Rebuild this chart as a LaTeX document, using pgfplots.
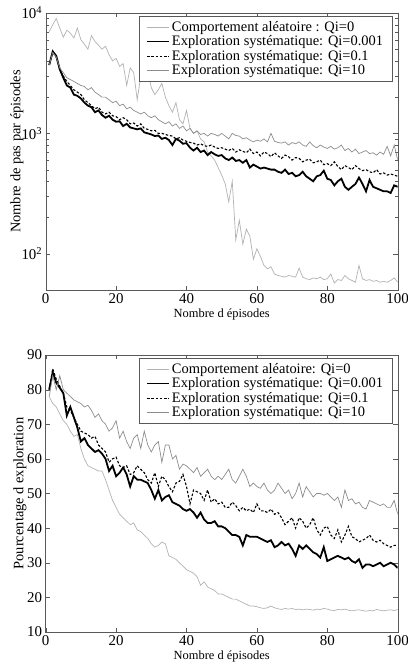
\documentclass[border=0pt]{standalone}
\usepackage{fontspec}
\setmainfont{Liberation Serif}
\usepackage{pgfplots}
\usepackage{pgfplotstable}
\pgfplotsset{compat=1.18}

% colonnes: episode, Qi=0 (aleatoire), Qi=0.001, Qi=0.1, Qi=10
\pgfplotstableread{
x r a b c
1 7000 3700 3700 3700
2 8000 4800 4700 4700
3 9000 4400 4300 4300
4 7500 3400 3400 3500
5 6300 2900 3000 3200
6 7200 2500 2700 2900
7 6800 2400 2500 2800
8 6200 2100 2300 2700
9 7500 2050 2200 2600
10 6000 1950 2100 2500
11 5500 1800 1900 2450
12 5000 1700 1800 2300
13 6500 1650 1700 2400
14 5800 1500 1600 2200
15 5400 1550 1650 2100
16 5000 1420 1500 2000
17 5300 1350 1450 2000
18 4500 1400 1500 1900
19 4000 1300 1400 1800
20 4200 1250 1380 1850
21 3600 1260 1300 1700
22 3800 1150 1350 1750
23 2500 1200 1300 1600
24 3500 1120 1200 1650
25 3200 1100 1220 1550
26 1900 1080 1150 1500
27 3000 1100 1200 1450
28 2700 1020 1100 1500
29 3300 1000 1080 1400
30 2400 980 1050 1350
31 2100 950 1060 1400
32 2300 960 1000 1300
33 2600 900 1000 1250
34 2000 920 980 1200
35 1700 880 960 1250
36 1500 800 950 1150
37 1800 900 900 1200
38 1300 870 920 1100
39 1200 820 880 1150
40 1550 830 860 1050
41 1100 760 840 1100
42 1000 720 830 1000
43 1050 760 800 1050
44 900 700 820 980
45 850 720 790 1000
46 700 660 780 950
47 650 700 800 1000
48 600 670 770 980
49 520 650 750 950
50 450 660 760 1000
51 380 620 740 950
52 270 600 720 900
53 400 630 750 1000
54 130 590 700 960
55 190 600 730 950
56 120 570 710 900
57 160 600 690 920
58 140 520 740 880
59 90 550 680 850
60 110 530 700 880
61 95 510 650 860
62 80 520 700 900
63 75 510 680 850
64 78 500 640 1000
65 68 500 690 860
66 66 480 650 840
67 65 470 620 830
68 64 500 660 850
69 66 460 640 800
70 65 470 600 840
71 64 440 630 820
72 76 450 620 850
73 64 480 580 800
74 62 440 600 780
75 61 420 610 850
76 63 400 570 790
77 62 440 580 760
78 64 450 600 800
79 61 490 550 770
80 62 420 560 750
81 68 410 540 780
82 57 370 580 740
83 61 400 530 760
84 60 420 500 800
85 66 360 540 720
86 62 340 520 750
87 60 360 500 700
88 58 380 540 740
89 80 430 510 680
90 62 380 490 700
91 60 330 500 720
92 61 410 480 680
93 59 360 470 690
94 60 350 500 660
95 58 340 460 700
96 59 330 470 670
97 58 330 450 780
98 60 320 460 650
99 63 370 450 800
100 58 360 440 600
}\pas

\pgfplotstableread{
x r a b c
1 78 80 80 78
2 76 85 86 84
3 75 82 83 80
4 73 80.5 81 84
5 71 79 79 80
6 70 72.5 75 79
7 68 75 74 78
8 66.5 72 72 77
9 67 69 70 76.5
10 63 65 68 76
11 60 66 67.5 75
12 58 64 67 75.5
13 57.5 63 66 74
14 57 62 66.5 72
15 56.5 62.5 64 73
16 56.5 61.5 63 71
17 54 60 62 70
18 51 56.5 59 68
19 48 58 60 69
20 46 55 60.5 71
21 44 56 58 66
22 43 57.5 57.5 68
23 42 55.5 58 65
24 41 52 55.5 63
25 41.5 55 56 66
26 39.5 54 58 67
27 39 54 57 63
28 38 53.5 56 68
29 37 53 54 64
30 35.5 51 53 62
31 34.5 48.5 56 64
32 35 51 52 65
33 36 48 55 59
34 35.5 49 54 64
35 32 49.5 52 64
36 31.5 47.5 50.5 60
37 31 47 53 61
38 30 46.5 53.5 57
39 29 45.5 55.5 58.5
40 28 45 52 58
41 27.5 45.5 47 57
42 27 44.5 51 56
43 26 43 50.5 57.5
44 23.5 44.5 50 55
45 24.5 42.5 48 56
46 23 41.5 51 57
47 22.5 41.5 47.5 55
48 22 42 48.5 54
49 21 40.5 47 55
50 21 40.5 47.5 54
51 20.5 40 46 55.5
52 20 39 46 57
53 19.5 38 47.5 54
54 19.5 38 46.5 53
55 19 37.5 45 55
56 18.5 35 46 57
57 18 38 45 55
58 17.5 37.5 45.5 52
59 17.5 37.5 44.5 53
60 17.3 37.5 47 52
61 17 37 45 51.5
62 16.8 36.5 45 53
63 17 36 44.5 51
64 17.5 36.5 45.5 50
65 17 34.5 44 51
66 16.7 35 44.5 53
67 16.5 36 43 51.5
68 16.8 35 41 50
69 16.6 35.5 42 51
70 16.8 34 43 48.5
71 16.5 32 40 50
72 16.6 35 43 53
73 16.4 34 42 49
74 16.6 35 40 52
75 16.5 34 41 50.5
76 16.3 33 43 49
77 16.6 32.5 39.5 50
78 16.5 31.5 38 50
79 16.8 34.5 40 49.5
80 16.6 30.5 40.5 50
81 16.3 31 38 49
82 16.2 31.5 37 48
83 16.5 32 39.5 49
84 16.4 31.5 36 46
85 16.6 31 38 51
86 16.3 31.5 40.5 48
87 16.1 30.5 37.5 48.5
88 16.3 30 37 47
89 16.4 31 36 47.5
90 16.2 28.5 36.5 46
91 16.0 29.5 37 45.5
92 16.2 29.5 38 48
93 16.1 29 36.5 47.5
94 16.5 29.5 36 47
95 16.3 30 36.5 46.5
96 16.1 29 35.5 47
97 16.3 29.5 35 46
98 16.4 30 34.5 46
99 16.2 29.5 35 48
100 16.5 28.5 35 44
}\explo

\pgfplotsset{
  panel/.style={
    scale only axis,
    width=352bp, height=277bp,
    anchor=north west,
    xmin=0, xmax=100,
    xtick={0,20,...,100},
    tick align=inside,
    axis line style={black!65},
    major tick style={black!65},
    minor tick style={black!65},
    tick label style={font=\fontsize{15}{17}\selectfont},
    xlabel style={font=\fontsize{12.5}{14}\selectfont, yshift=2bp},
    /pgf/number format/assume math mode=true,
    xlabel={Nombre d épisodes},
    legend cell align=left,
    legend style={at={(0.265,0.989)}, anchor=north west,
      draw=black!65, font=\fontsize{14.5}{16}\selectfont,
      inner xsep=7bp, inner ysep=3bp, row sep=-1bp},
    legend image code/.code={\draw[##1] (0bp,0bp) -- (22bp,0bp);},
  },
  ylab/.style={every axis y label/.style={at={(axis description cs:#1,0.5)},
    rotate=90, anchor=center, font=\fontsize{14.5}{16}\selectfont}},
  s0/.style={color=black!30, line width=0.7pt},
  s1/.style={color=black, line width=1.8pt},
  s2/.style={color=black, line width=1.1pt, dash pattern=on 2.5pt off 1.8pt},
  s3/.style={color=black!45, line width=0.7pt},
}

\begin{document}
\begin{tikzpicture}
\useasboundingbox (-45.7bp,13bp) rectangle (362.3bp,-656bp);
\begin{semilogyaxis}[panel, at={(0,0)}, ylab=-0.082,
  ymin=50, ymax=10000,
  ytick={100,1000,10000},
  yticklabels={10\textsuperscript{2},10\textsuperscript{3},10\textsuperscript{4}},
  ylabel={Nombre de pas par épisodes},
]
\addplot[s0] table[x=x,y=r] {\pas};
\addplot[s1] table[x=x,y=a] {\pas};
\addplot[s2] table[x=x,y=b] {\pas};
\addplot[s3] table[x=x,y=c] {\pas};
\legend{Comportement aléatoire : Qi=0,Exploration systématique: Qi=0.001,Exploration systématique: Qi=0.1,Exploration systématique: Qi=10}
\end{semilogyaxis}

\begin{axis}[panel, at={(0,-342bp)}, ylab=-0.073,
  ymin=10, ymax=90,
  ytick={10,20,...,90},
  ylabel={Pourcentage d exploration},
]
\addplot[s0] table[x=x,y=r] {\explo};
\addplot[s1] table[x=x,y=a] {\explo};
\addplot[s2] table[x=x,y=b] {\explo};
\addplot[s3] table[x=x,y=c] {\explo};
\legend{Comportement aléatoire: Qi=0,Exploration systématique: Qi=0.001,Exploration systématique: Qi=0.1,Exploration systématique: Qi=10}
\end{axis}
\end{tikzpicture}
\end{document}
